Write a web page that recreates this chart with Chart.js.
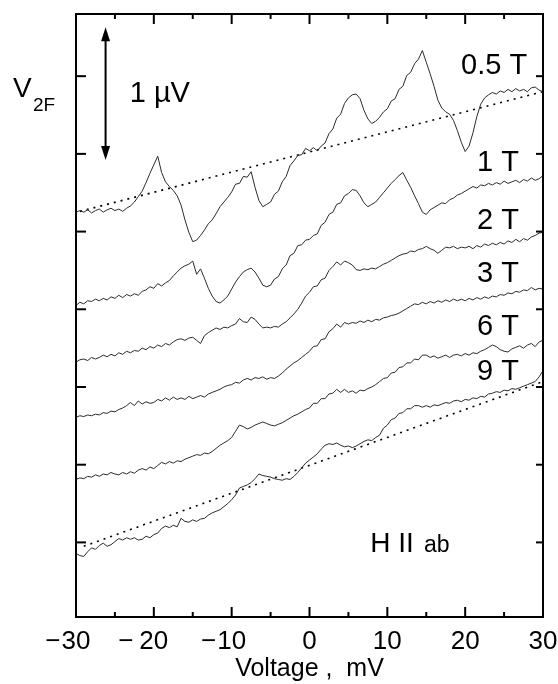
<!DOCTYPE html>
<html>
<head>
<meta charset="utf-8">
<script src="https://cdn.jsdelivr.net/npm/chart.js@4.4.1/dist/chart.umd.min.js"></script>
<style>
  html, body { margin: 0; padding: 0; background: #fff; }
  #wrap { width: 558px; height: 684px; }
</style>
</head>
<body>
<div id="wrap"><canvas id="v2fChart" width="558" height="684"></canvas></div>
<script>
// Bias sweep, mV (0.5 mV steps)
var voltage = [];
for (var i = 0; i <= 120; i++) voltage.push(-30 + i * 0.5);

// Second-harmonic signal, traces offset vertically (one tick = one unit)
var v05T = [
  5.25, 5.27, 5.25, 5.28, 5.24, 5.27, 5.29, 5.25, 5.28, 5.30,
  5.27, 5.29, 5.26, 5.30, 5.33, 5.38, 5.45, 5.52, 5.63, 5.75,
  5.86, 5.97, 5.76, 5.64, 5.58, 5.53, 5.46, 5.34, 5.15, 4.99,
  4.87, 4.89, 4.95, 5.02, 5.10, 5.15, 5.23, 5.32, 5.38, 5.44,
  5.51, 5.61, 5.62, 5.71, 5.70, 5.77, 5.57, 5.40, 5.32, 5.35,
  5.38, 5.48, 5.52, 5.64, 5.71, 5.85, 5.91, 5.98, 5.99, 6.07,
  6.04, 6.08, 6.04, 6.10, 6.14, 6.26, 6.32, 6.46, 6.51, 6.65,
  6.72, 6.76, 6.77, 6.71, 6.56, 6.45, 6.39, 6.42, 6.47, 6.54,
  6.58, 6.68, 6.71, 6.83, 6.87, 7.01, 7.05, 7.16, 7.22, 7.33,
  7.18, 7.03, 6.87, 6.69, 6.59, 6.54, 6.51, 6.43, 6.30, 6.15,
  6.03, 6.10, 6.27, 6.48, 6.64, 6.72, 6.76, 6.79, 6.77, 6.81,
  6.79, 6.83, 6.80, 6.84, 6.81, 6.83, 6.80, 6.85, 6.86, 6.82,
  6.80
];
var v1T = [
  4.05, 4.09, 4.07, 4.11, 4.10, 4.13, 4.11, 4.14, 4.12, 4.16,
  4.14, 4.18, 4.15, 4.19, 4.17, 4.20, 4.18, 4.23, 4.25, 4.29,
  4.27, 4.33, 4.30, 4.34, 4.37, 4.43, 4.48, 4.53, 4.56, 4.58,
  4.62, 4.45, 4.52, 4.40, 4.27, 4.17, 4.10, 4.08, 4.12, 4.17,
  4.26, 4.35, 4.42, 4.48, 4.51, 4.53, 4.48, 4.40, 4.31, 4.29,
  4.31, 4.39, 4.42, 4.52, 4.57, 4.69, 4.72, 4.82, 4.83, 4.89,
  4.90, 4.95, 4.97, 5.08, 5.12, 5.22, 5.25, 5.35, 5.37, 5.46,
  5.49, 5.54, 5.53, 5.46, 5.37, 5.32, 5.35, 5.38, 5.44, 5.50,
  5.56, 5.62, 5.67, 5.72, 5.76, 5.66, 5.57, 5.46, 5.36, 5.25,
  5.22, 5.28, 5.31, 5.34, 5.37, 5.36, 5.41, 5.43, 5.47, 5.49,
  5.52, 5.55, 5.58, 5.56, 5.60, 5.59, 5.62, 5.60, 5.63, 5.61,
  5.65, 5.62, 5.64, 5.66, 5.63, 5.67, 5.65, 5.69, 5.66, 5.68,
  5.72
];
var v2T = [
  3.32, 3.35, 3.36, 3.34, 3.38, 3.36, 3.38, 3.41, 3.39, 3.42,
  3.40, 3.44, 3.42, 3.46, 3.44, 3.47, 3.46, 3.50, 3.48, 3.52,
  3.50, 3.54, 3.52, 3.56, 3.54, 3.58, 3.61, 3.62, 3.60, 3.63,
  3.64, 3.60, 3.56, 3.66, 3.70, 3.73, 3.76, 3.74, 3.77, 3.76,
  3.79, 3.81, 3.88, 3.84, 3.83, 3.90, 3.87, 3.81, 3.76, 3.77,
  3.76, 3.78, 3.77, 3.81, 3.84, 3.89, 3.94, 4.00, 4.08, 4.17,
  4.22, 4.29, 4.30, 4.38, 4.40, 4.50, 4.55, 4.61, 4.57, 4.62,
  4.60, 4.57, 4.51, 4.50, 4.52, 4.51, 4.53, 4.52, 4.55, 4.58,
  4.60, 4.63, 4.66, 4.69, 4.71, 4.72, 4.75, 4.74, 4.77, 4.78,
  4.81, 4.78, 4.76, 4.72, 4.76, 4.80, 4.79, 4.81, 4.78, 4.80,
  4.79, 4.81, 4.78, 4.82, 4.80, 4.84, 4.82, 4.85, 4.83, 4.86,
  4.84, 4.88, 4.86, 4.90, 4.87, 4.91, 4.89, 4.93, 4.95, 4.98,
  4.99
];
var v3T = [
  2.61, 2.63, 2.62, 2.64, 2.63, 2.65, 2.64, 2.67, 2.66, 2.69,
  2.68, 2.71, 2.73, 2.76, 2.80, 2.76, 2.82, 2.78, 2.81, 2.79,
  2.80, 2.84, 2.82, 2.86, 2.83, 2.87, 2.84, 2.86, 2.84, 2.88,
  2.85, 2.87, 2.89, 2.87, 2.91, 2.93, 2.95, 2.97, 3.00, 3.02,
  3.03, 3.06, 3.05, 3.09, 3.11, 3.09, 3.12, 3.11, 3.13, 3.10,
  3.12, 3.11, 3.14, 3.18, 3.23, 3.27, 3.31, 3.34, 3.38, 3.42,
  3.46, 3.52, 3.53, 3.61, 3.62, 3.71, 3.75, 3.81, 3.77, 3.83,
  3.81, 3.83, 3.82, 3.85, 3.83, 3.86, 3.84, 3.87, 3.86, 3.89,
  3.90, 3.92, 3.93, 3.95, 3.98, 4.01, 4.04, 4.07, 4.06, 4.09,
  4.07, 4.10, 4.08, 4.11, 4.09, 4.12, 4.10, 4.13, 4.11, 4.13,
  4.11, 4.14, 4.12, 4.15, 4.13, 4.16, 4.14, 4.17, 4.16, 4.19,
  4.18, 4.21, 4.20, 4.23, 4.22, 4.25, 4.24, 4.28, 4.25, 4.27,
  4.26
];
var v6T = [
  1.81, 1.83, 1.82, 1.85, 1.84, 1.87, 1.85, 1.88, 1.87, 1.90,
  1.88, 1.87, 1.90, 1.88, 1.91, 1.89, 1.93, 1.95, 1.93, 1.97,
  1.95, 1.99, 2.03, 2.01, 2.04, 2.02, 2.05, 2.04, 2.07, 2.09,
  2.11, 2.13, 2.12, 2.15, 2.14, 2.17, 2.21, 2.25, 2.28, 2.31,
  2.35, 2.43, 2.51, 2.49, 2.46, 2.48, 2.51, 2.53, 2.55, 2.53,
  2.51, 2.50, 2.52, 2.54, 2.57, 2.60, 2.63, 2.65, 2.68, 2.71,
  2.73, 2.79, 2.79, 2.85, 2.85, 2.91, 2.92, 2.97, 2.93, 2.97,
  2.93, 2.95, 2.92, 2.96, 2.95, 2.98, 3.00, 3.03, 3.07, 3.11,
  3.12, 3.18, 3.19, 3.25, 3.26, 3.31, 3.31, 3.36, 3.35, 3.41,
  3.41, 3.38, 3.40, 3.37, 3.39, 3.41, 3.38, 3.41, 3.42, 3.40,
  3.43, 3.41, 3.44, 3.43, 3.46, 3.48, 3.51, 3.54, 3.52, 3.48,
  3.46, 3.45, 3.49, 3.51, 3.53, 3.50, 3.54, 3.56, 3.52, 3.58,
  3.60
];
var v9T = [
  0.86, 0.83, 0.82, 0.88, 0.93, 0.91, 0.96, 0.99, 0.95, 0.97,
  1.01, 1.05, 1.03, 1.06, 1.04, 1.06, 1.03, 1.04, 1.08, 1.06,
  1.10, 1.12, 1.18, 1.21, 1.19, 1.22, 1.20, 1.31, 1.27, 1.26,
  1.29, 1.27, 1.30, 1.31, 1.35, 1.38, 1.40, 1.42, 1.46, 1.50,
  1.55, 1.61, 1.70, 1.72, 1.74, 1.77, 1.82, 1.88, 1.86, 1.85,
  1.84, 1.82, 1.81, 1.80, 1.82, 1.81, 1.85, 1.90, 1.96, 2.02,
  2.06, 2.10, 2.14, 2.20, 2.25, 2.27, 2.26, 2.28, 2.25, 2.23,
  2.24, 2.22, 2.24, 2.27, 2.30, 2.32, 2.31, 2.35, 2.38, 2.47,
  2.51, 2.58, 2.60, 2.66, 2.67, 2.72, 2.72, 2.76, 2.76, 2.74,
  2.76, 2.74, 2.77, 2.76, 2.78, 2.80, 2.79, 2.82, 2.83, 2.81,
  2.84, 2.83, 2.86, 2.85, 2.88, 2.87, 2.91, 2.92, 2.94, 2.93,
  2.96, 2.95, 2.98, 2.97, 2.99, 3.01, 3.03, 3.05, 3.07, 3.13,
  3.21
];

// Straight background lines under the 0.5 T and 9 T traces
var base05X = [-29.5, 30];
var base05Y = [5.26, 6.80];
var base9X = [-29, 30];
var base9Y = [0.95, 3.07];

var fieldLabels = ['0.5 T', '1 T', '2 T', '3 T', '6 T', '9 T'];
var xTicks = [-30, -20, -10, 0, 10, 20, 30];

var FONT = '"Liberation Sans", Arial, Helvetica, sans-serif';

function pts(xs, ys) {
  return xs.map(function (x, k) { return { x: x, y: ys[k] }; });
}

function trace(values) {
  return {
    data: pts(voltage, values),
    borderColor: '#2b2b2b',
    borderWidth: 1,
    pointRadius: 0,
    tension: 0,
    fill: false
  };
}

function dotted(xs, ys) {
  return {
    data: pts(xs, ys),
    borderColor: '#000',
    borderWidth: 1.6,
    borderDash: [2, 5],
    pointRadius: 0,
    fill: false
  };
}

// Frame, inward ticks, tick labels and annotations
var decorations = {
  id: 'decorations',
  afterDatasetsDraw: function (chart) {
    var ctx = chart.ctx, a = chart.chartArea;
    var xs = chart.scales.x, ys = chart.scales.y;

    function seg(x1, y1, x2, y2) {
      ctx.beginPath(); ctx.moveTo(x1, y1); ctx.lineTo(x2, y2); ctx.stroke();
    }

    ctx.save();
    ctx.strokeStyle = '#000';
    ctx.fillStyle = '#000';
    ctx.lineWidth = 2;
    ctx.strokeRect(a.left, a.top, a.right - a.left, a.bottom - a.top);

    for (var v = -25; v <= 25; v += 5) {
      var px = xs.getPixelForValue(v);
      var len = v % 10 === 0 ? 10 : 5;
      seg(px, a.bottom, px, a.bottom - len);
      seg(px, a.top, px, a.top + len);
    }
    for (var t = 1; t <= 7; t++) {
      var py = ys.getPixelForValue(t);
      seg(a.left, py, a.left + 10, py);
      seg(a.right, py, a.right - 7, py);
    }

    // x tick labels: digits centred on the tick, minus sign hanging left
    ctx.font = '26px ' + FONT;
    ctx.textBaseline = 'alphabetic';
    xTicks.forEach(function (val) {
      var cx = xs.getPixelForValue(val);
      var digits = String(Math.abs(val));
      var w = ctx.measureText(digits).width;
      ctx.textAlign = 'center';
      ctx.fillText(digits, cx, 649);
      if (val < 0) {
        ctx.textAlign = 'right';
        ctx.fillText('\u2212', cx - w / 2 - (val === -20 ? 6 : 1), 649);
      }
    });

    ctx.textAlign = 'center';
    ctx.font = '25px ' + FONT;
    ctx.fillText('Voltage ,  mV', (a.left + a.right) / 2, 676);

    // y axis name
    ctx.textAlign = 'left';
    ctx.font = '28px ' + FONT;
    ctx.fillText('V', 13, 97);
    ctx.font = '19px ' + FONT;
    ctx.fillText('2F', 33, 111);

    // 1 uV scale arrow
    var ax = xs.getPixelForValue(-26.2);
    var aTop = ys.getPixelForValue(7.63), aBot = ys.getPixelForValue(5.92);
    ctx.lineWidth = 2;
    seg(ax, aTop + 10, ax, aBot - 10);
    ctx.beginPath();
    ctx.moveTo(ax, aTop); ctx.lineTo(ax - 4.5, aTop + 14); ctx.lineTo(ax + 4.5, aTop + 14);
    ctx.closePath(); ctx.fill();
    ctx.beginPath();
    ctx.moveTo(ax, aBot); ctx.lineTo(ax - 4.5, aBot - 14); ctx.lineTo(ax + 4.5, aBot - 14);
    ctx.closePath(); ctx.fill();

    ctx.font = '29px ' + FONT;
    ctx.textBaseline = 'middle';
    ctx.fillText('1 \u00b5V', xs.getPixelForValue(-23.1), ys.getPixelForValue(6.77));

    // field labels, right-aligned next to the trace ends
    var labelAt = [[27.96, 7.13], [26.9, 5.88], [26.9, 5.13], [26.9, 4.46], [26.9, 3.77], [26.9, 3.19]];
    ctx.textAlign = 'right';
    fieldLabels.forEach(function (txt, k) {
      ctx.fillText(txt, xs.getPixelForValue(labelAt[k][0]), ys.getPixelForValue(labelAt[k][1]));
    });

    ctx.textAlign = 'left';
    ctx.textBaseline = 'alphabetic';
    ctx.font = '28px ' + FONT;
    ctx.fillText('H II', xs.getPixelForValue(7.8), ys.getPixelForValue(0.88));
    ctx.font = '23px ' + FONT;
    ctx.fillText('ab', xs.getPixelForValue(14.7), ys.getPixelForValue(0.88));
    ctx.restore();
  }
};

var chart = new Chart(document.getElementById('v2fChart').getContext('2d'), {
  type: 'line',
  data: {
    datasets: [
      trace(v05T), trace(v1T), trace(v2T), trace(v3T), trace(v6T), trace(v9T),
      dotted(base05X, base05Y), dotted(base9X, base9Y)
    ]
  },
  options: {
    responsive: false,
    animation: false,
    devicePixelRatio: 1,
    layout: { padding: { top: 14, right: 15, left: 0, bottom: 0 } },
    plugins: { legend: { display: false }, tooltip: { enabled: false } },
    scales: {
      x: {
        type: 'linear',
        min: -30,
        max: 30,
        ticks: { display: false },
        grid: { display: false, drawTicks: false },
        border: { display: false },
        afterFit: function (s) { s.height = 67; }
      },
      y: {
        type: 'linear',
        min: 0.04,
        max: 7.8,
        ticks: { display: false },
        grid: { display: false, drawTicks: false },
        border: { display: false },
        afterFit: function (s) { s.width = 76; }
      }
    }
  },
  plugins: [decorations]
});
</script>
</body>
</html>
